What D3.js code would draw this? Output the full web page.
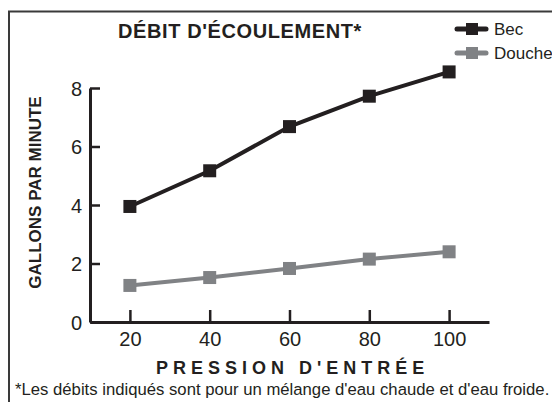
<!DOCTYPE html>
<html>
<head>
<meta charset="utf-8">
<script src="https://cdn.jsdelivr.net/npm/d3@7"></script>
<style>
  body { margin: 0; background: #fff; }
  svg text { font-family: "Liberation Sans", Arial, Helvetica, sans-serif; fill: #231f20; }
</style>
</head>
<body>
<div id="chart"></div>
<script>
var pressures = [20, 40, 60, 80, 100];
var becValues = [3.95, 5.17, 6.68, 7.72, 8.55];
var doucheValues = [1.25, 1.52, 1.83, 2.15, 2.4];
var yTicks = [0, 2, 4, 6, 8];
var seriesNames = ["Bec", "Douche"];
var seriesColors = ["#231f20", "#808285"];

var width = 552, height = 402;

var svg = d3.select("#chart").append("svg")
	.attr("width", width)
	.attr("height", height);

// cadre (haut et gauche seulement)
svg.append("path")
	.attr("d", "M9,402V11.5H552")
	.attr("fill", "none")
	.attr("stroke", "#3a3a3a")
	.attr("stroke-width", 2);

var x = d3.scaleLinear().domain([10, 110]).range([90, 489]);
var y = d3.scaleLinear().domain([0, 8]).range([322, 88]);

var xAxis = svg.append("g")
	.attr("transform", "translate(0,322)")
	.call(d3.axisBottom(x).tickValues(pressures).tickSizeInner(-12).tickSizeOuter(0).tickPadding(10));
var yAxis = svg.append("g")
	.attr("transform", "translate(90,0)")
	.call(d3.axisLeft(y).tickValues(yTicks).tickSizeInner(-10).tickSizeOuter(0).tickPadding(8));

[xAxis, yAxis].forEach(function (g) {
	g.select(".domain").attr("stroke", "#231f20").attr("stroke-width", 3);
	g.selectAll(".tick line").attr("stroke", "#231f20").attr("stroke-width", 2.5);
	g.selectAll(".tick text")
		.attr("fill", "#231f20")
		.style("font-size", "20px")
		.style("font-family", "'Liberation Sans', Arial, sans-serif");
});
yAxis.selectAll(".tick text").attr("dy", "0.36em");

var allSeries = [becValues, doucheValues];
var line = d3.line()
	.x(function (d, i) { return x(pressures[i]); })
	.y(function (d) { return y(d); });

// Douche dessinée d'abord, Bec par-dessus
[1, 0].forEach(function (s) {
	svg.append("path")
		.datum(allSeries[s])
		.attr("d", line)
		.attr("fill", "none")
		.attr("stroke", seriesColors[s])
		.attr("stroke-width", 4);
	svg.selectAll(null)
		.data(allSeries[s])
		.enter()
		.append("rect")
		.attr("x", function (d, i) { return x(pressures[i]) - 6.5; })
		.attr("y", function (d) { return y(d) - 6.5; })
		.attr("width", 13)
		.attr("height", 13)
		.attr("fill", seriesColors[s]);
});

// légende
var legend = svg.selectAll(".legend")
	.data(seriesNames)
	.enter()
	.append("g")
	.attr("class", "legend")
	.attr("transform", function (d, i) { return "translate(472," + (29 + i * 24) + ")"; });
legend.append("line")
	.attr("x1", -15).attr("x2", 14)
	.attr("stroke", function (d, i) { return seriesColors[i]; })
	.attr("stroke-width", 5)
	.attr("stroke-linecap", "round");
legend.append("rect")
	.attr("x", -6).attr("y", -6)
	.attr("width", 12).attr("height", 12)
	.attr("fill", function (d, i) { return seriesColors[i]; });
legend.append("text")
	.attr("x", 22)
	.attr("dy", "0.35em")
	.style("font-size", "17px")
	.text(function (d) { return d; });

// titres
svg.append("text")
	.attr("x", 118)
	.attr("y", 38)
	.style("font-size", "20px")
	.style("font-weight", "bold")
	.style("letter-spacing", "0.6px")
	.text("DÉBIT D'ÉCOULEMENT*");

svg.append("text")
	.attr("transform", "translate(41,192.5) rotate(-90)")
	.attr("text-anchor", "middle")
	.style("font-size", "17px")
	.style("font-weight", "bold")
	.text("GALLONS PAR MINUTE");

svg.append("text")
	.attr("x", 156)
	.attr("y", 374)
	.style("font-size", "18px")
	.style("font-weight", "bold")
	.style("letter-spacing", "5px")
	.text("PRESSION D'ENTRÉE");

svg.append("text")
	.attr("x", 15)
	.attr("y", 395)
	.style("font-size", "16.7px")
	.text("*Les débits indiqués sont pour un mélange d'eau chaude et d'eau froide.");
</script>
</body>
</html>
